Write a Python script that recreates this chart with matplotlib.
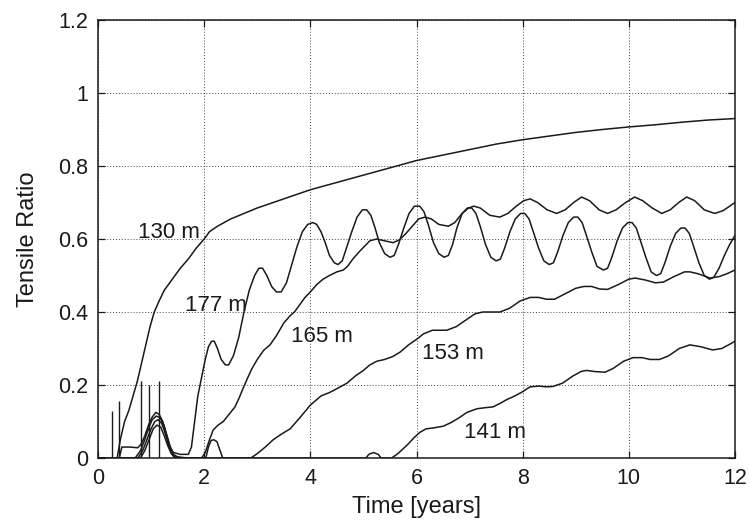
import numpy as np
import matplotlib
matplotlib.use("Agg")
import matplotlib.pyplot as plt

plt.rcParams["font.family"] = ["Liberation Sans", "DejaVu Sans"]

# Tensile ratio histories at five depths (time in years)
t_130 = [0.36, 0.42, 0.50, 0.58, 0.66, 0.74, 0.82, 0.90, 0.98, 1.06, 1.15, 1.25, 1.40, 1.55,
         1.70, 1.85, 2.00, 2.10, 2.25, 2.50, 2.75, 3.00, 3.50, 4.00, 4.50, 5.00, 5.50, 6.00,
         6.50, 7.00, 7.50, 8.00, 8.50, 9.00, 9.50, 10.0, 10.5, 11.0, 11.5, 12.0]
v_130 = [0.00, 0.05, 0.10, 0.13, 0.17, 0.21, 0.26, 0.31, 0.36, 0.40, 0.43, 0.46, 0.49, 0.52,
         0.545, 0.575, 0.60, 0.62, 0.635, 0.655, 0.67, 0.685, 0.71, 0.735, 0.755, 0.775, 0.795,
         0.815, 0.83, 0.845, 0.86, 0.872, 0.882, 0.892, 0.90, 0.907, 0.913, 0.92, 0.926, 0.93]

t_177 = [0.40, 0.45, 0.60, 0.75, 0.82, 0.88, 0.95, 1.02, 1.09, 1.15, 1.22, 1.30, 1.36, 1.42,
         1.55, 1.70, 1.76, 1.82, 1.88, 1.95, 2.02, 2.08, 2.14, 2.19, 2.25, 2.32, 2.40, 2.46,
         2.55, 2.65, 2.75, 2.85, 2.95, 3.03, 3.10, 3.18, 3.27, 3.36, 3.45, 3.55, 3.65, 3.75,
         3.85, 3.95, 4.05, 4.12, 4.20, 4.28, 4.36, 4.45, 4.52, 4.60, 4.68, 4.78, 4.88, 4.98,
         5.06, 5.14, 5.22, 5.30, 5.40, 5.50, 5.58, 5.66, 5.76, 5.86, 5.96, 6.06, 6.14, 6.22,
         6.32, 6.42, 6.52, 6.60, 6.68, 6.76, 6.86, 6.96, 7.04, 7.12, 7.20, 7.30, 7.40, 7.50,
         7.58, 7.66, 7.76, 7.86, 7.96, 8.04, 8.12, 8.20, 8.30, 8.40, 8.50, 8.58, 8.66, 8.76,
         8.86, 8.96, 9.04, 9.12, 9.20, 9.30, 9.40, 9.52, 9.60, 9.68, 9.78, 9.88, 9.98, 10.06,
         10.14, 10.22, 10.32, 10.42, 10.52, 10.60, 10.68, 10.78, 10.88, 10.98, 11.06, 11.14,
         11.22, 11.32, 11.42, 11.52, 11.60, 11.70, 11.80, 11.90, 12.0]
v_177 = [0.00, 0.03, 0.03, 0.028, 0.04, 0.06, 0.09, 0.112, 0.125, 0.12, 0.10, 0.06, 0.03, 0.015,
         0.01, 0.01, 0.03, 0.10, 0.17, 0.22, 0.27, 0.305, 0.32, 0.32, 0.30, 0.27, 0.255, 0.255,
         0.28, 0.33, 0.40, 0.46, 0.50, 0.52, 0.52, 0.50, 0.47, 0.455, 0.455, 0.48, 0.53, 0.58,
         0.62, 0.64, 0.645, 0.64, 0.62, 0.59, 0.555, 0.535, 0.53, 0.54, 0.575, 0.62, 0.66, 0.68,
         0.68, 0.665, 0.63, 0.59, 0.56, 0.55, 0.555, 0.585, 0.63, 0.67, 0.69, 0.69, 0.675, 0.64,
         0.59, 0.56, 0.55, 0.555, 0.585, 0.63, 0.67, 0.685, 0.685, 0.67, 0.635, 0.585, 0.55, 0.54,
         0.545, 0.575, 0.62, 0.655, 0.67, 0.67, 0.655, 0.62, 0.575, 0.54, 0.53, 0.535, 0.565, 0.61,
         0.645, 0.66, 0.66, 0.645, 0.61, 0.565, 0.525, 0.515, 0.52, 0.55, 0.595, 0.63, 0.645, 0.645,
         0.63, 0.595, 0.55, 0.51, 0.50, 0.505, 0.535, 0.58, 0.615, 0.63, 0.63, 0.615,
         0.58, 0.535, 0.50, 0.49, 0.495, 0.52, 0.555, 0.585, 0.61]

t_165 = [0.0, 0.70, 0.80, 0.88, 0.95, 1.02, 1.10, 1.17, 1.24, 1.30, 1.36, 1.42, 1.50, 1.70,
         1.95, 2.02, 2.10, 2.17, 2.26, 2.36, 2.47, 2.58, 2.66, 2.73, 2.82, 2.90, 3.00, 3.12,
         3.24, 3.36, 3.50, 3.62, 3.70, 3.80, 3.90, 4.00, 4.12, 4.24, 4.36, 4.50, 4.62, 4.70,
         4.80, 4.92, 5.02, 5.12, 5.25, 5.40, 5.56, 5.68, 5.80, 5.92, 6.04, 6.16, 6.28, 6.42,
         6.60, 6.72, 6.86, 6.98, 7.08, 7.20, 7.38, 7.57, 7.72, 7.88, 8.02, 8.14, 8.28, 8.46,
         8.64, 8.80, 8.96, 9.11, 9.26, 9.44, 9.60, 9.76, 9.94, 10.11, 10.26, 10.44, 10.62,
         10.78, 10.94, 11.09, 11.24, 11.42, 11.62, 11.78, 11.90, 12.0]
v_165 = [0.0, 0.0, 0.02, 0.05, 0.08, 0.105, 0.115, 0.11, 0.09, 0.06, 0.03, 0.01, 0.003, 0.0,
         0.0, 0.015, 0.05, 0.077, 0.09, 0.10, 0.12, 0.14, 0.165, 0.19, 0.22, 0.245, 0.27, 0.295,
         0.31, 0.335, 0.37, 0.39, 0.40, 0.42, 0.44, 0.455, 0.475, 0.49, 0.50, 0.51, 0.515, 0.525,
         0.545, 0.565, 0.58, 0.595, 0.60, 0.595, 0.59, 0.598, 0.615, 0.635, 0.655, 0.66, 0.655, 0.64,
         0.635, 0.645, 0.67, 0.685, 0.69, 0.685, 0.665, 0.66, 0.67, 0.69, 0.705, 0.71, 0.70, 0.68,
         0.67, 0.68, 0.70, 0.715, 0.705, 0.68, 0.67, 0.68, 0.70, 0.715, 0.705, 0.685, 0.67,
         0.68, 0.70, 0.715, 0.705, 0.68, 0.67, 0.678, 0.69, 0.70]

t_153 = [0.0, 0.75, 0.84, 0.92, 1.00, 1.07, 1.13, 1.20, 1.26, 1.32, 1.38, 1.45, 1.60, 2.03,
         2.08, 2.13, 2.18, 2.24, 2.30, 2.35, 2.88, 3.00, 3.15, 3.30, 3.45, 3.62, 3.80, 4.00,
         4.20, 4.37, 4.50, 4.69, 4.85, 5.00, 5.12, 5.25, 5.40, 5.55, 5.69, 5.85, 6.00, 6.13,
         6.30, 6.45, 6.57, 6.75, 6.95, 7.10, 7.25, 7.40, 7.57, 7.75, 7.95, 8.14, 8.30, 8.45,
         8.60, 8.80, 9.00, 9.15, 9.30, 9.45, 9.60, 9.80, 10.00, 10.12, 10.30, 10.50, 10.65,
         10.85, 11.05, 11.15, 11.30, 11.53, 11.70, 11.85, 12.0]
v_153 = [0.0, 0.0, 0.02, 0.05, 0.08, 0.10, 0.105, 0.095, 0.07, 0.04, 0.015, 0.003, 0.0, 0.0,
         0.03, 0.048, 0.05, 0.045, 0.02, 0.0, 0.0, 0.012, 0.03, 0.05, 0.065, 0.08, 0.11, 0.145,
         0.17, 0.18, 0.19, 0.205, 0.225, 0.24, 0.255, 0.265, 0.27, 0.278, 0.29, 0.31, 0.325, 0.34,
         0.35, 0.35, 0.35, 0.36, 0.38, 0.395, 0.40, 0.40, 0.40, 0.41, 0.43, 0.44, 0.44, 0.435,
         0.435, 0.45, 0.465, 0.47, 0.47, 0.463, 0.462, 0.475, 0.49, 0.493, 0.488, 0.48, 0.482,
         0.497, 0.51, 0.51, 0.505, 0.493, 0.497, 0.505, 0.515]

t_141 = [0.0, 0.80, 0.88, 0.96, 1.04, 1.11, 1.18, 1.25, 1.31, 1.38, 1.45, 5.05, 5.10, 5.19,
         5.28, 5.33, 5.53, 5.65, 5.82, 5.95, 6.06, 6.18, 6.30, 6.50, 6.65, 6.80, 6.95, 7.14,
         7.30, 7.44, 7.58, 7.70, 7.85, 7.98, 8.14, 8.30, 8.45, 8.57, 8.75, 8.95, 9.10, 9.20,
         9.35, 9.55, 9.70, 9.90, 10.08, 10.25, 10.40, 10.58, 10.75, 10.95, 11.15, 11.35, 11.58,
         11.75, 11.88, 12.0]
v_141 = [0.0, 0.0, 0.02, 0.05, 0.08, 0.09, 0.085, 0.06, 0.035, 0.012, 0.0, 0.0, 0.01, 0.015,
         0.01, 0.0, 0.0, 0.012, 0.035, 0.055, 0.07, 0.08, 0.082, 0.087, 0.097, 0.11, 0.125, 0.135,
         0.138, 0.14, 0.15, 0.16, 0.17, 0.18, 0.195, 0.197, 0.195, 0.196, 0.205, 0.225, 0.237, 0.24,
         0.237, 0.235, 0.245, 0.265, 0.275, 0.275, 0.27, 0.27, 0.28, 0.30, 0.31, 0.305, 0.296,
         0.30, 0.31, 0.32]

# Short numerical spikes early in the record
spike_t = [0.26, 0.40, 0.81, 0.96, 1.15]
spike_v = [0.13, 0.155, 0.21, 0.20, 0.21]

curves = [
    ("130 m", t_130, v_130),
    ("177 m", t_177, v_177),
    ("165 m", t_165, v_165),
    ("153 m", t_153, v_153),
    ("141 m", t_141, v_141),
]
# label anchor (time, ratio) for each depth
label_pos = {"130 m": (1.34, 0.619), "177 m": (2.22, 0.419), "165 m": (4.22, 0.332),
             "153 m": (6.69, 0.285), "141 m": (7.48, 0.071)}

fig = plt.figure(figsize=(7.5, 5.25), dpi=100)
ax = fig.add_axes([0.1307, 0.1276, 0.8493, 0.8343])

line_color = "#1a1a1a"
for name, t, v in curves:
    ax.plot(t, v, color=line_color, lw=1.1)
    lx, ly = label_pos[name]
    ax.text(lx, ly, name, fontsize=16, ha="center", va="center", color="#1a1a1a")

ax.vlines(spike_t, 0, spike_v, color=line_color, lw=1.0)

ax.set_xlim(0, 12)
ax.set_ylim(0, 1.2)
ax.set_xticks(np.arange(0, 13, 2))
ax.set_yticks([0, 0.2, 0.4, 0.6, 0.8, 1.0, 1.2])
ax.set_yticklabels(["0", "0.2", "0.4", "0.6", "0.8", "1", "1.2"])
ax.grid(True, linestyle=(0, (1, 2)), color="#444444", lw=0.7)
ax.tick_params(direction="in", length=5, width=0.9, top=True, right=True,
               labelsize=15.5, pad=7, colors="#1a1a1a")
for sp in ax.spines.values():
    sp.set_linewidth(1.1)
    sp.set_color("#1a1a1a")

ax.set_xlabel("Time [years]", fontsize=17, labelpad=5, color="#1a1a1a")
ax.set_ylabel("Tensile Ratio", fontsize=17, labelpad=14, color="#1a1a1a")

fig.savefig("out.png", dpi=100)
